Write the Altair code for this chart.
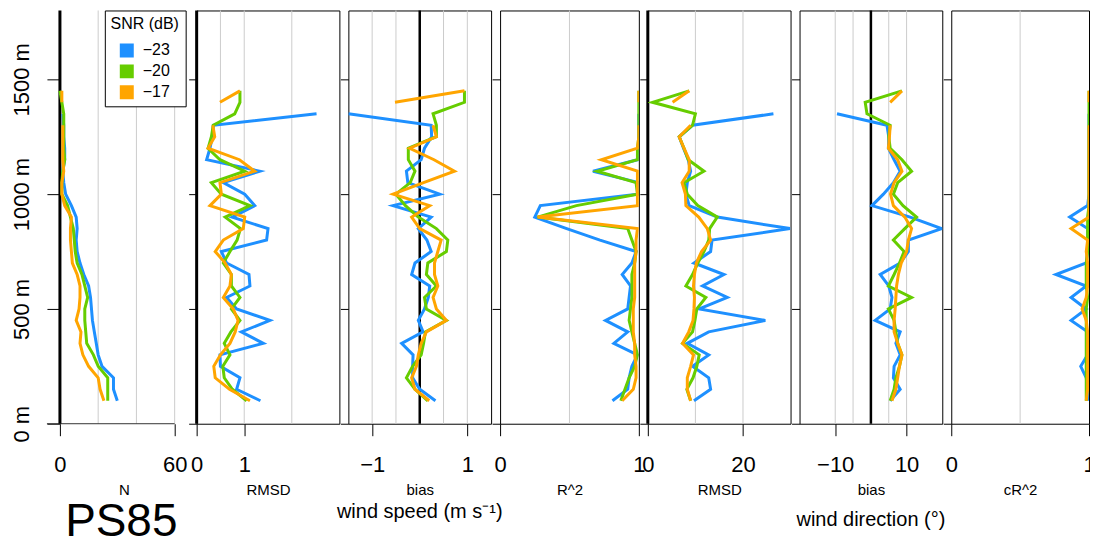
import altair as alt
import pandas as pd

FONT = "Liberation Sans"

DEPTH = [100, 150, 200, 250, 300, 350, 400, 450, 500, 550, 600, 650, 700, 750,
         800, 850, 900, 950, 1000, 1050, 1100, 1150, 1200, 1250, 1300, 1350, 1400, 1450]
SNR = ["\u221223", "\u221220", "\u221217"]
COLORS = ["#1E90FF", "#66CD00", "#FFA500"]
Y_TICKS = [0, 500, 1000, 1500]

# N (number of samples)
N_23 = [30, 28, 28, 22, 20, 19, 18, 17, 16.5, 16, 15, 12.5, 10.5, 9, 8.5, 9, 8.5, 6, 3, 2, 1.5, 2.5, 2.5, 2, 2, 1.5, None, None]
N_20 = [25, 25, 25, 20, 17.5, 14, 13.5, 13, 13, 14.5, 13, 11.5, 9, 8, 7.5, 7, 5.5, 4, 1, 1, 1.5, 2.5, 2, 2, 2, 2, 1, 0]
N_17 = [23, 21, 20, 15, 12, 10.5, 11, 8.5, 10, 10.5, 10.5, 9, 6.5, 6, 5.5, 5.5, 6, 2.5, 1, 1, 2, 1.5, 1.5, 1.5, 1.5, None, 1, 1]

# wind speed RMSD
WS_RMSD_23 = [1.34, 0.84, 0.91, 0.50, 0.49, 1.40, 0.94, 1.54, 0.84, 0.63, 1.12, 1.10, 0.63, 0.52, 1.47, 1.50, 0.75, 1.22, 1.01, 0.56, 1.33, 0.21, 0.28, 0.33, 0.35, 2.52, None, None]
WS_RMSD_20 = [1.05, 0.75, 0.58, 0.55, 0.70, 0.58, 0.72, 0.91, 0.73, 0.91, 0.73, 0.73, 0.56, 0.70, 0.85, 0.92, 0.60, 1.12, 0.52, 0.31, 1.01, 0.49, 0.24, 0.31, 0.35, 0.80, 0.91, 0.91]
WS_RMSD_17 = [1.12, 0.69, 0.39, 0.36, 0.50, 0.70, 0.81, 0.87, 0.77, 0.56, 0.70, 0.73, 0.60, 0.39, 0.56, 0.98, 1.01, 0.28, 0.52, 0.49, 1.22, 0.90, 0.24, 0.38, 0.34, None, 0.49, 0.91]

# wind speed bias
WS_BIAS_23 = [0.33, 0.0, -0.15, -0.15, -0.14, -0.38, 0.07, -0.03, 0.10, 0.18, 0.21, -0.17, -0.10, 0.24, 0.15, -0.03, 0.24, -0.56, 0.42, -0.25, -0.28, 0.03, 0.10, 0.25, 0.24, -1.50, None, None]
WS_BIAS_20 = [0.17, -0.10, -0.28, -0.15, 0.03, 0.08, 0.12, 0.56, 0.14, 0.10, 0.35, 0.14, 0.17, 0.56, 0.59, 0.35, -0.03, -0.30, -0.50, -0.20, -0.10, -0.24, -0.24, 0.35, 0.35, 0.28, 0.94, 0.94]
WS_BIAS_17 = [0.20, -0.10, -0.17, -0.07, -0.03, 0.03, 0.14, 0.56, 0.35, 0.28, 0.38, 0.31, 0.31, 0.38, 0.45, 0.00, -0.17, 0.21, -0.56, 0.08, 0.73, 0.30, -0.21, 0.35, 0.28, None, -0.52, 0.94]

# wind speed R^2
WS_R2_23 = [0.81, 0.92, 0.93, 0.95, 0.99, 0.82, 0.92, 0.76, 0.92, 0.93, 0.94, 0.88, 0.95, 0.98, 0.72, 0.48, 0.25, 0.29, 0.99, 1.0, 0.67, 0.99, 1.0, 1.0, 1.0, 1.0, None, None]
WS_R2_20 = [0.87, 0.90, 0.93, 0.97, 0.99, 0.97, 0.95, 0.93, 0.94, 0.95, 0.95, 0.95, 0.97, 0.98, 0.95, 0.92, 0.27, 0.55, 0.99, 0.98, 0.70, 0.99, 0.99, 1.0, 1.0, 1.0, 1.0, 1.0]
WS_R2_17 = [0.88, 0.96, 0.98, 0.98, 0.97, 0.97, 0.96, 0.96, 0.96, 0.97, 0.97, 0.97, 0.97, 0.98, 0.98, 0.99, 0.27, 0.99, 0.99, 0.99, 0.99, 0.73, 0.99, 1.0, 1.0, None, 1.0, 1.0]

# wind direction RMSD
WD_RMSD_23 = [9.7, 13.2, 12.8, 9.4, 12.8, 8.3, 12.8, 24.7, 10.8, 16.7, 11.5, 16.0, 9.7, 13.2, 13.5, 29.9, 14.6, 8.7, 8.0, 8.3, 9.0, 8.5, 7.5, 6.6, 9.4, 26.4, None, None]
WD_RMSD_20 = [9.0, 8.2, 9.5, 10.3, 10.8, 7.3, 9.4, 9.9, 10.3, 12.2, 8.0, 9.4, 10.5, 11.8, 12.8, 13.0, 14.6, 10.5, 8.3, 7.6, 11.8, 8.5, 7.6, 6.6, 9.4, 10.0, 1.0, 8.7]
WD_RMSD_17 = [9.0, 8.3, 8.3, 9.0, 9.6, 7.3, 8.6, 9.5, 9.7, 9.8, 9.6, 9.8, 10.2, 11.3, 13.2, 12.5, 10.7, 8.0, 7.9, 7.2, 8.7, 8.7, 7.6, 6.6, 9.0, None, 5.2, 8.7]

# wind direction bias
WD_BIAS_23 = [5.4, 8.2, 6.3, 6.5, 8.2, 7.0, 8.2, 1.2, 5.4, 5.9, 5.0, 2.6, 8.2, 10.5, 10.5, 19.8, 11.0, 0.3, 3.5, 6.3, 8.2, 6.5, 4.9, 5.0, 4.5, -9.5, None, None]
WD_BIAS_20 = [5.4, 6.5, 7.0, 8.0, 8.7, 7.5, 7.0, 6.5, 4.9, 11.4, 4.9, 6.5, 8.0, 9.3, 6.3, 9.5, 12.8, 9.0, 6.3, 7.5, 11.4, 8.7, 5.4, 5.0, 5.4, -1.1, -1.6, 8.7]
WD_BIAS_17 = [5.9, 7.0, 7.5, 8.0, 8.7, 7.5, 6.5, 6.5, 6.8, 7.0, 7.2, 7.7, 8.5, 10.0, 10.5, 11.4, 9.5, 6.3, 5.5, 6.5, 8.7, 7.5, 4.9, 5.2, 5.4, None, 5.4, 8.7]

# wind direction cR^2
WD_CR2_23 = [0.99, 0.99, 0.98, 0.94, 0.99, 0.99, 0.99, 0.87, 0.98, 0.87, 0.98, 0.76, 0.98, 0.99, 0.99, 0.99, 0.86, 0.99, 1.0, 1.0, 1.0, 1.0, 1.0, 1.0, 1.0, 1.0, None, None]
WD_CR2_20 = [0.98, 0.98, 0.98, 0.98, 0.98, 0.98, 0.98, 0.98, 0.98, 0.99, 0.98, 0.98, 0.98, 0.99, 0.99, 0.99, 0.99, 1.0, 1.0, 1.0, 1.0, 1.0, 1.0, 1.0, 1.0, 1.0, 1.0, 1.0]
WD_CR2_17 = [0.98, 0.99, 0.99, 0.99, 0.99, 0.99, 0.99, 0.98, 0.95, 0.98, 0.99, 0.99, 0.99, 0.98, 0.99, 0.87, 1.0, 1.0, 1.0, 1.0, 1.0, 1.0, 1.0, 1.0, 1.0, None, 1.0, 1.0]


def build_df(series):
    rows = []
    for snr, vals in zip(SNR, series):
        for d, v in zip(DEPTH, vals):
            rows.append({"depth": d, "value": v, "snr": snr})
    return pd.DataFrame(rows)


LEGEND = alt.Legend(
    title="SNR (dB)", orient="none", legendX=58, legendY=0,
    strokeColor="black", fillColor="white", padding=6, cornerRadius=0,
    titleFontSize=16, titleFontWeight="normal", titleColor="black",
    titleAnchor="middle", titlePadding=10,
    labelFontSize=16, labelColor="black", labelOffset=8,
    symbolType="square", symbolSize=36, symbolStrokeWidth=8,
    clipHeight=16, rowPadding=5,
)
COLOR = alt.Color("snr:N", scale=alt.Scale(domain=SNR, range=COLORS), legend=LEGEND)


def panel(series, xdom, width, ticks, grid, xtitle, zero=None, zero_w=2.5,
          box=True, first=False, title=None, extra_x=None, axis_line=None):
    df = build_df(series)
    xs = alt.Scale(domain=xdom, nice=False, zero=False)
    ys = alt.Scale(domain=[0, 1800], nice=False)
    ax = dict(values=ticks, title=xtitle, grid=False, tickSize=12, tickColor="black",
              labelFontSize=22, labelPadding=19, labelFlush=False, labelOverlap=False,
              format="d", titleFontSize=15, titleFontWeight="normal", titlePadding=7,
              domain=False, labelColor="black", titleColor="black")
    if extra_x:
        ax.update(extra_x)
    xaxis = alt.Axis(**ax)
    if first:
        yaxis = alt.Axis(values=Y_TICKS, labelExpr="datum.value + ' m'", labelAngle=270,
                         labelAlign="center", labelBaseline="bottom", labelFontSize=22,
                         labelPadding=13, tickSize=13, offset=-13, domain=False, grid=False,
                         title=None, labelColor="black", tickColor="black")
    else:
        yaxis = alt.Axis(values=Y_TICKS, labels=False, tickSize=8, domain=False, grid=False,
                         title=None, tickColor="black")
    layers = [
        alt.Chart(pd.DataFrame({"g": grid})).mark_rule(color="#cccccc", strokeWidth=1)
        .encode(x=alt.X("g:Q", scale=xs, axis=xaxis))
    ]
    if axis_line is not None:
        layers.append(
            alt.Chart(pd.DataFrame({"a": [axis_line[0]], "b": [axis_line[1]]}))
            .mark_rule(color="#333333", strokeWidth=1)
            .encode(x=alt.X("a:Q", scale=xs, axis=xaxis), x2="b:Q", y=alt.value(414))
        )
    if zero is not None:
        layers.append(
            alt.Chart(pd.DataFrame({"z": [zero]})).mark_rule(color="black", strokeWidth=zero_w)
            .encode(x=alt.X("z:Q", scale=xs, axis=xaxis))
        )
    for snr in SNR:
        layers.append(
            alt.Chart(df).transform_filter(alt.datum.snr == snr)
            .mark_line(strokeWidth=3, clip=True, invalid="break-paths-show-domains")
            .encode(
                x=alt.X("value:Q", scale=xs, axis=xaxis),
                y=alt.Y("depth:Q", scale=ys, axis=yaxis),
                color=COLOR,
                order=alt.Order("depth:Q"),
            )
        )
    props = dict(width=width, height=414)
    if box:
        props["view"] = alt.ViewBackground(stroke="black", strokeWidth=1)
    if title is not None:
        props["title"] = title
    return alt.layer(*layers).properties(**props)


p1 = panel([N_23, N_20, N_17], [-6.8, 66.8], 141, [0, 60], [20, 40, 60], "N",
           zero=0, zero_w=3, box=False, first=True, axis_line=[-6.8, 60],
           title=alt.TitleParams("PS85", orient="bottom", anchor="middle", fontSize=46,
                                 fontWeight="normal", color="black", offset=2, dx=4),
           extra_x={"titleX": 77})
p2 = panel([WS_RMSD_23, WS_RMSD_20, WS_RMSD_17], [0, 3], 143, [0, 1], [0.5, 1, 2], "RMSD",
           zero=0, zero_w=3)
p3 = panel([WS_BIAS_23, WS_BIAS_20, WS_BIAS_17], [-1.5, 1.5], 143, [-1, 1], [-1, -0.5, 0.5, 1],
           "bias", zero=0, zero_w=2.5,
           title=alt.TitleParams("wind speed (m s\u207b\u00b9)", orient="bottom", anchor="middle",
                                 fontSize=20, fontWeight="normal", color="black", offset=4))
p4 = panel([WS_R2_23, WS_R2_20, WS_R2_17], [0, 1], 139, [0, 1], [0.5], "R^2")
p5 = panel([WD_RMSD_23, WD_RMSD_20, WD_RMSD_17], [0, 30], 143, [0, 20], [10, 20], "RMSD",
           zero=0, zero_w=3)
p6 = panel([WD_BIAS_23, WD_BIAS_20, WD_BIAS_17], [-20, 20], 143, [-10, 10], [-10, -5, 5, 10],
           "bias", zero=0, zero_w=2.5,
           title=alt.TitleParams("wind direction (\u00b0)", orient="bottom", anchor="middle",
                                 fontSize=20, fontWeight="normal", color="black", offset=12))
p7 = panel([WD_CR2_23, WD_CR2_20, WD_CR2_17], [0, 1], 138, [0, 1], [0.5], "cR^2")

chart = (
    alt.hconcat(p1, p2, p3, p4, p5, p6, p7, spacing=9, bounds="flush")
    .properties(padding={"left": 2, "top": 0, "right": -6, "bottom": -8})
    .configure(font=FONT)
    .configure_view(stroke="transparent")
)

chart.save("out.html", embed_options={"renderer": "svg", "actions": False})
